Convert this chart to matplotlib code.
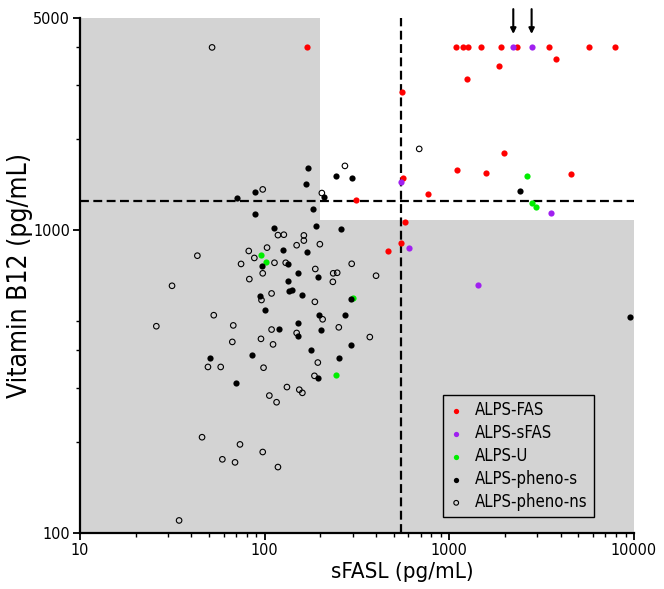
import matplotlib
matplotlib.use("Agg")
import matplotlib.pyplot as plt
from matplotlib.ticker import FixedLocator, NullFormatter

plt.rcParams['font.family'] = ['DejaVu Sans']
plt.rcParams['font.stretch'] = 'condensed'

# ALPS-FAS (red)
fas_x = [1080, 1190, 1270, 1490, 1900, 2320, 3480, 5730, 7900, 170,
         3800, 1860, 1250, 556, 1985, 1100, 1585, 4540, 563, 764,
         311, 573, 550, 467]
fas_y = [4000, 4000, 4000, 4000, 4000, 4000, 4000, 4000, 4000, 4000,
         3670, 3470, 3150, 2840, 1800, 1580, 1545, 1525, 1486, 1316,
         1254, 1065, 903, 850]

# ALPS-sFAS (purple)
sfas_x = [2220, 2790, 550, 3540, 607, 1425]
sfas_y = [4000, 4000, 1438, 1138, 874, 656]

# ALPS-U (green)
u_x = [2624, 2790, 2958, 96, 102, 302, 242]
u_y = [1502, 1225, 1189, 828, 782, 598, 331]

# ALPS-pheno-s (black filled)
ps_x = [172, 244, 296, 168, 88.6, 210, 71, 2414, 88.6, 183,
        112, 189, 259, 125, 170, 96.4, 133, 152, 194, 133,
        135, 140, 160, 94.4, 292, 101, 196, 271, 151, 120,
        203, 152, 295, 178, 85.7, 50.6, 253, 70.2, 195, 9550]
ps_y = [1596, 1506, 1483, 1417, 1333, 1286, 1274, 1346, 1127, 1171,
        1012, 1033, 1005, 859, 846, 760, 773, 719, 700, 679,
        630, 633, 609, 606, 591, 543, 523, 522, 493, 472,
        469, 445, 418, 400, 388, 379, 379, 313, 325, 516]

# ALPS-pheno-ns (open circles)
pns_x = [51.9, 687, 272, 97.6, 204, 43.2, 31.5, 53, 25.9, 118,
         127, 163, 163, 199, 149, 103, 82, 87.9, 74.5, 113,
         130, 296, 97.6, 188, 82.6, 235, 247, 234, 401, 109,
         96.1, 187, 206, 67.6, 109, 149, 252, 371, 95.5, 66.8,
         111, 194, 49.3, 57.8, 98.6, 186, 132, 154, 160, 106,
         116, 45.8, 73.5, 97.6, 59, 69.1, 118, 34.4]
pns_y = [4000, 1850, 1626, 1360, 1323, 822, 654, 523, 481, 961,
         964, 959, 922, 897, 890, 874, 852, 808, 772, 779,
         779, 773, 719, 743, 688, 719, 722, 674, 706, 617,
         587, 579, 507, 484, 469, 457, 477, 443, 437, 427,
         419, 365, 353, 353, 351, 330, 303, 297, 290, 284,
         270, 207, 196, 185, 175, 171, 165, 110]

# cut-offs and shaded (normal) region
sfasl_cut = 550
b12_cut = 1250
shade_x_left = [10, 200]
shade_x_right = [200, 10000]
shade_top_left = 5000
shade_top_right = 1080

arrow_x = [2220, 2790]

fig = plt.figure(figsize=(6.64, 5.89), dpi=100)
ax = fig.add_axes([0.1205, 0.0951, 0.8343, 0.8743])

gray = '#d3d3d3'
ax.fill_between(shade_x_left, 100, shade_top_left, color=gray, lw=0, zorder=0)
ax.fill_between(shade_x_right, 100, shade_top_right, color=gray, lw=0, zorder=0)

ax.axvline(sfasl_cut, color='black', lw=1.6, ls=(0, (4, 2)), zorder=1)
ax.axhline(b12_cut, color='black', lw=1.6, ls=(0, (4, 2)), zorder=1)

ms = 20
ax.scatter(fas_x, fas_y, s=ms, color='#ff0000', lw=0, label='ALPS-FAS', zorder=3)
ax.scatter(sfas_x, sfas_y, s=ms, color='#a020f0', lw=0, label='ALPS-sFAS', zorder=3)
ax.scatter(u_x, u_y, s=ms, color='#00ee00', lw=0, label='ALPS-U', zorder=3)
ax.scatter(ps_x, ps_y, s=ms, color='black', lw=0, label='ALPS-pheno-s', zorder=3)
ax.scatter(pns_x, pns_y, s=16, facecolors='none', edgecolors='black', lw=0.8,
           label='ALPS-pheno-ns', zorder=3)

for xa in arrow_x:
    ax.annotate('', xy=(xa, 4430), xytext=(xa, 5350), xycoords='data',
                annotation_clip=False,
                arrowprops=dict(arrowstyle='-|>', color='black', lw=1.5,
                                mutation_scale=8, shrinkA=0, shrinkB=0))

ax.set_xscale('log')
ax.set_yscale('log')
ax.set_xlim(10, 10000)
ax.set_ylim(100, 5000)

ax.xaxis.set_major_locator(FixedLocator([10, 100, 1000, 10000]))
ax.set_xticklabels(['10', '100', '1000', '10000'])
ax.yaxis.set_major_locator(FixedLocator([100, 1000, 5000]))
ax.set_yticklabels(['100', '1000', '5000'])
ax.yaxis.set_minor_locator(FixedLocator([200, 300, 400, 500, 2000, 3000, 4000]))
ax.yaxis.set_minor_formatter(NullFormatter())
ax.xaxis.set_minor_formatter(NullFormatter())

for s in ['top', 'right']:
    ax.spines[s].set_visible(False)
for s in ['left', 'bottom']:
    ax.spines[s].set_linewidth(1.6)

ax.tick_params(which='major', length=5, width=1.3, labelsize=11.5, pad=2)
ax.tick_params(which='minor', length=3, width=1)

ax.set_xlabel('sFASL (pg/mL)', fontsize=16)
ax.xaxis.set_label_coords(0.581, -0.056)
ax.set_ylabel('Vitamin B12 (pg/mL)', fontsize=19, labelpad=0)

leg = ax.legend(loc='lower left', bbox_to_anchor=(0.655, 0.031), fontsize=12,
                frameon=True, fancybox=False, edgecolor='black', facecolor=gray,
                framealpha=1, handletextpad=0.7, labelspacing=0.3,
                borderpad=0.35, borderaxespad=0, handlelength=0.9,
                markerscale=0.85)
leg.get_frame().set_linewidth(1.0)

fig.savefig('out.png', dpi=100)
